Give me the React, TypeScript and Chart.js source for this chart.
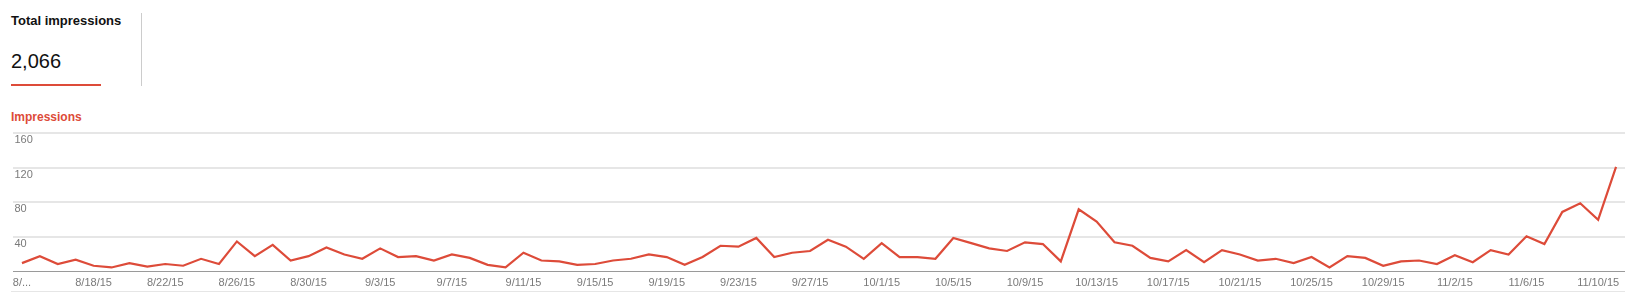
import React, { useEffect, useRef } from "react";
import { Chart, registerables } from "chart.js";

Chart.register(...registerables);

const FONT = "'Liberation Sans', Arial, Helvetica, sans-serif";

const categories: string[] = [
  "8/14/15", "8/15/15", "8/16/15", "8/17/15", "8/18/15", "8/19/15", "8/20/15", "8/21/15", "8/22/15", "8/23/15",
  "8/24/15", "8/25/15", "8/26/15", "8/27/15", "8/28/15", "8/29/15", "8/30/15", "8/31/15",
  "9/1/15", "9/2/15", "9/3/15", "9/4/15", "9/5/15", "9/6/15", "9/7/15", "9/8/15", "9/9/15", "9/10/15",
  "9/11/15", "9/12/15", "9/13/15", "9/14/15", "9/15/15", "9/16/15", "9/17/15", "9/18/15", "9/19/15", "9/20/15",
  "9/21/15", "9/22/15", "9/23/15", "9/24/15", "9/25/15", "9/26/15", "9/27/15", "9/28/15", "9/29/15", "9/30/15",
  "10/1/15", "10/2/15", "10/3/15", "10/4/15", "10/5/15", "10/6/15", "10/7/15", "10/8/15", "10/9/15", "10/10/15",
  "10/11/15", "10/12/15", "10/13/15", "10/14/15", "10/15/15", "10/16/15", "10/17/15", "10/18/15", "10/19/15", "10/20/15",
  "10/21/15", "10/22/15", "10/23/15", "10/24/15", "10/25/15", "10/26/15", "10/27/15", "10/28/15", "10/29/15", "10/30/15",
  "10/31/15", "11/1/15", "11/2/15", "11/3/15", "11/4/15", "11/5/15", "11/6/15", "11/7/15", "11/8/15", "11/9/15",
  "11/10/15", "11/11/15",
];

const impressions: number[] = [
  10, 18, 9, 14, 7, 5, 10, 6, 9, 7, 15, 9, 35, 18, 31,
  13, 18, 28, 20, 15, 27, 17, 18, 13, 20, 16, 8, 5, 22, 13,
  12, 8, 9, 13, 15, 20, 17, 8, 17, 30, 29, 39, 17, 22, 24,
  37, 29, 15, 33, 17, 17, 15, 39, 33, 27, 24, 34, 32, 12, 72,
  58, 34, 30, 16, 12, 25, 11, 25, 20, 13, 15, 10, 17, 5, 18,
  16, 7, 12, 13, 9, 19, 11, 25, 20, 41, 32, 69, 79, 60, 121,
];

const firstTickLabel = "8/...";
const yTicks: number[] = [0, 40, 80, 120, 160];

const seriesName = "Impressions";
const totalLabel = "Total impressions";
const totalValue = "2,066";

const RED = "#dd4b39";

export default function App() {
  const canvasRef = useRef<HTMLCanvasElement | null>(null);

  useEffect(() => {
    document.body.style.margin = "0";
    const canvas = canvasRef.current;
    if (!canvas) return;
    Chart.defaults.font.family = FONT;
    const chart = new Chart(canvas, {
      type: "line",
      data: {
        labels: categories,
        datasets: [
          {
            label: seriesName,
            data: impressions,
            borderColor: RED,
            backgroundColor: RED,
            borderWidth: 2.2,
            pointRadius: 0,
            tension: 0,
            fill: false,
          },
        ],
      },
      options: {
        animation: false,
        responsive: false,
        maintainAspectRatio: false,
        layout: { padding: { left: 10, right: 9, top: 13, bottom: 5 } },
        plugins: { legend: { display: false }, tooltip: { enabled: false } },
        scales: {
          x: {
            type: "category",
            offset: true,
            grid: { display: false, drawTicks: false },
            border: { display: false },
            ticks: {
              autoSkip: false,
              maxRotation: 0,
              minRotation: 0,
              padding: 5,
              color: "#7a7a7a",
              font: { size: 11, family: FONT },
              callback: (_v: any, i: number) => {
                if (i === 0) return firstTickLabel;
                return i % 4 === 0 ? categories[i] : "";
              },
            },
          },
          y: {
            min: yTicks[0],
            max: yTicks[yTicks.length - 1],
            afterBuildTicks: (axis: any) => {
              axis.ticks = yTicks.map((v) => ({ value: v }));
            },
            grid: {
              drawTicks: false,
              lineWidth: (ctx: any) => (ctx.tick && ctx.tick.value === 0 ? 1 : 2),
              color: (ctx: any) => (ctx.tick && ctx.tick.value === 0 ? "#9a9a9a" : "#e6e6e6"),
            },
            border: { display: false },
            ticks: {
              mirror: true,
              padding: 1.5,
              labelOffset: 7,
              color: "#7a7a7a",
              font: { size: 11, family: FONT },
              callback: (v: any) => (v === 0 ? "" : String(v)),
            },
          },
        },
      },
    });
    return () => chart.destroy();
  }, []);

  return (
    <div style={{ position: "relative", width: 1634, height: 300, overflow: "hidden", fontFamily: FONT, background: "#fff" }}>
      <div style={{ position: "absolute", left: 11, top: 13, fontSize: 13, fontWeight: "bold", color: "#111", whiteSpace: "nowrap" }}>
        {totalLabel}
      </div>
      <div style={{ position: "absolute", left: 11, top: 49.5, fontSize: 20, color: "#111", whiteSpace: "nowrap" }}>
        {totalValue}
      </div>
      <div style={{ position: "absolute", left: 11, top: 84, width: 90, height: 2, background: RED }} />
      <div style={{ position: "absolute", left: 141, top: 13, width: 1, height: 73, background: "#cccccc" }} />
      <div style={{ position: "absolute", left: 11, top: 110, fontSize: 12, fontWeight: "bold", color: RED, whiteSpace: "nowrap" }}>
        {seriesName}
      </div>
      <canvas ref={canvasRef} width={1634} height={180} style={{ position: "absolute", left: 0, top: 120, width: 1634, height: 180 }} />
      <div style={{ position: "absolute", left: 11, top: 291, width: 1614, height: 1, background: "#e6e6e6" }} />
    </div>
  );
}
